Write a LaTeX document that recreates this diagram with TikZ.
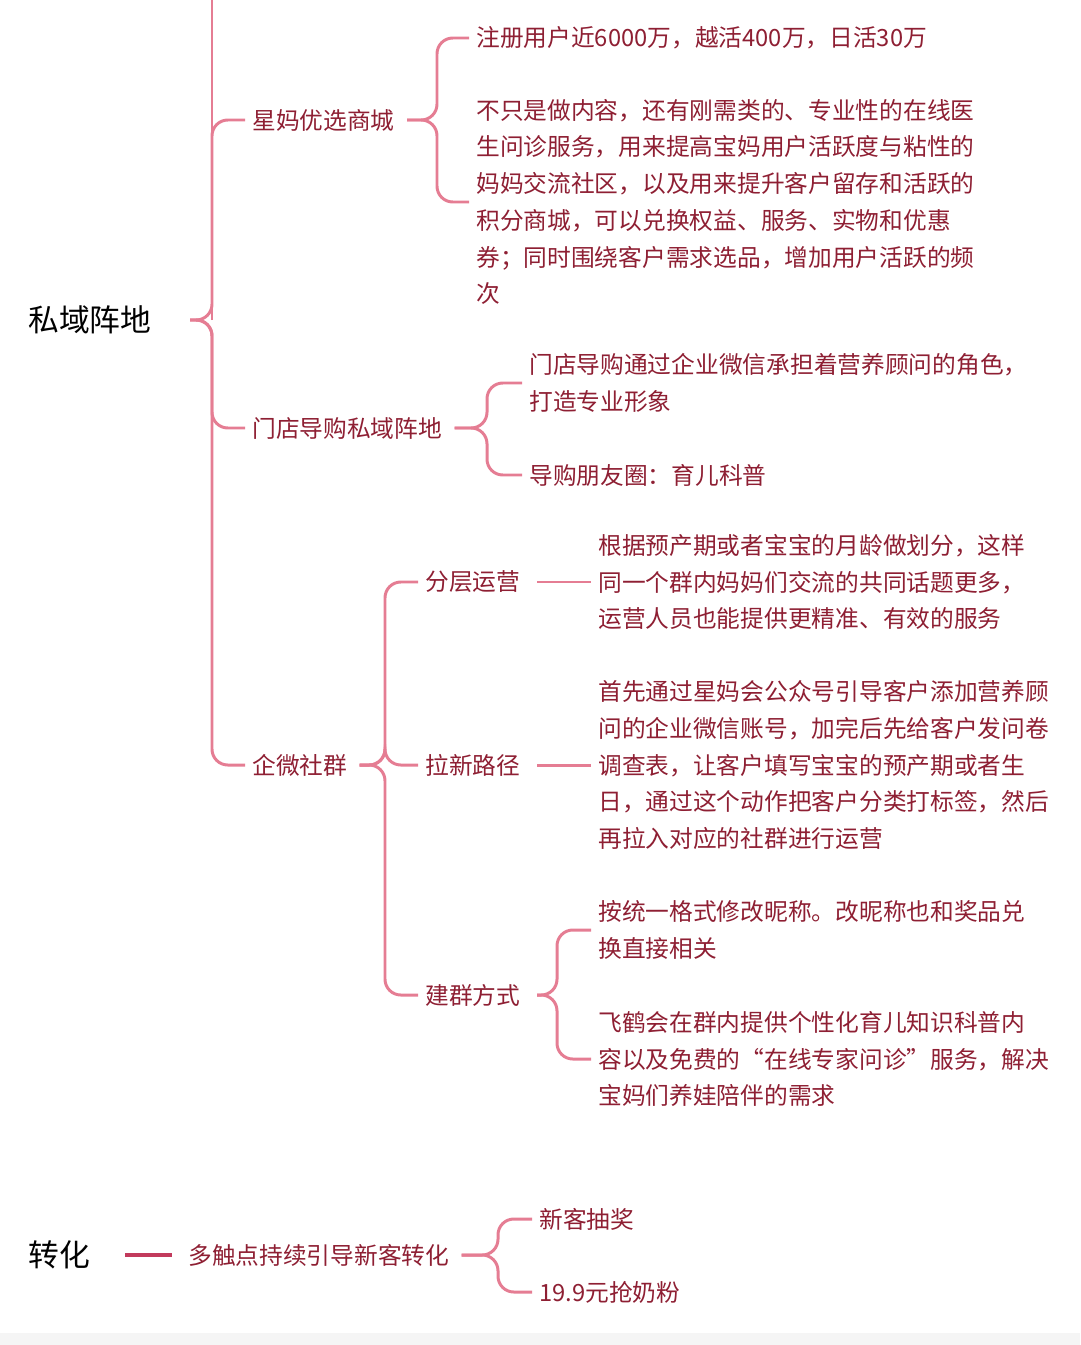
\documentclass[tikz,border=0pt]{standalone}
\usepackage{fontspec}
\setmainfont{Noto Sans CJK SC}
\usetikzlibrary{calc}
\definecolor{linkpink}{HTML}{E57D93}
\definecolor{textred}{HTML}{8E1F33}
\definecolor{deepred}{HTML}{C23A5C}
\tikzset{
  leaf/.style={anchor=west, inner sep=4pt, text=textred, align=left,
    font=\fontsize{13.5}{20.9}\selectfont},
  root/.style={anchor=west, inner sep=4pt, font=\fontsize{17.5}{20}\selectfont},
  link/.style={draw=linkpink, line width=1.7pt, rounded corners=9pt}
}
\begin{document}
\begin{tikzpicture}[x=0.02cm, y=-0.02cm]
\useasboundingbox (0,0) rectangle (1080,1345);
\fill[black!4] (0,1333) rectangle (1080,1345);
\clip (0,0) rectangle (1080,1345);
% root
\node[root] (r) at (21,320) {私域阵地};
\node[leaf] (b1) at (245,120) {星妈优选商城};
\node[leaf] (b2) at (245,428) {门店导购私域阵地};
\node[leaf] (b3) at (245,765) {企微社群};
\draw[link] (190,320) -- (212,320) |- (b1.west);
\draw[link] (190,320) -- (212,320) |- (b2.west);
\draw[link] (190,320) -- (212,320) |- (b3.west);
\draw[link] (212,320) -- (212,0);
% shop
\node[leaf] (c11) at (469,38) {注册用户近6000万，越活400万，日活30万};
\node[leaf] (c12) at (469,202) {不只是做内容，还有刚需类的、专业性的在线医\\生问诊服务，用来提高宝妈用户活跃度与粘性的\\妈妈交流社区，以及用来提升客户留存和活跃的\\积分商城，可以兑换权益、服务、实物和优惠\\券；同时围绕客户需求选品，增加用户活跃的频\\次};
\draw[link] (b1.east) ++(5,0) -- (437,120) |- (c11.west);
\draw[link] (b1.east) ++(5,0) -- (437,120) |- (c12.west);
% store guide
\node[leaf] (c21) at (522,383) {门店导购通过企业微信承担着营养顾问的角色，\\打造专业形象};
\node[leaf] (c22) at (522,475) {导购朋友圈：育儿科普};
\draw[link] (b2.east) ++(5,0) -- (487,428) |- (c21.west);
\draw[link] (b2.east) ++(5,0) -- (487,428) |- (c22.west);
% wecom groups
\node[leaf] (d1) at (418,582) {分层运营};
\node[leaf] (d2) at (418,765) {拉新路径};
\node[leaf] (d3) at (418,995) {建群方式};
\draw[link] (b3.east) ++(5,0) -- (385,765) |- (d1.west);
\draw[link] (b3.east) ++(5,0) -- (385,765) |- (d2.west);
\draw[link] (b3.east) ++(5,0) -- (385,765) |- (d3.west);
\node[leaf] (e1) at (591,582) {根据预产期或者宝宝的月龄做划分，这样\\同一个群内妈妈们交流的共同话题更多，\\运营人员也能提供更精准、有效的服务};
\node[leaf] (e2) at (591,765) {首先通过星妈会公众号引导客户添加营养顾\\问的企业微信账号，加完后先给客户发问卷\\调查表，让客户填写宝宝的预产期或者生\\日，通过这个动作把客户分类打标签，然后\\再拉入对应的社群进行运营};
\draw[link] (537,582) -- (e1.west);
\draw[link] (537,765) -- (e2.west);
\node[leaf] (e31) at (591,930) {按统一格式修改昵称。改昵称也和奖品兑\\换直接相关};
\node[leaf] (e32) at (591,1059) {飞鹤会在群内提供个性化育儿知识科普内\\容以及免费的“在线专家问诊”服务，解决\\宝妈们养娃陪伴的需求};
\draw[link] (537,995) -- (557,995) |- (e31.west);
\draw[link] (537,995) -- (557,995) |- (e32.west);
% conversion
\node[root] (r2) at (21,1255) {转化};
\node[leaf] (f1) at (181,1255) {多触点持续引导新客转化};
\draw[draw=deepred, line width=2.6pt] (125,1255) -- (172,1255);
\node[leaf] (g1) at (532,1219) {新客抽奖};
\node[leaf] (g2) at (532,1292) {19.9元抢奶粉};
\draw[link] (f1.east) ++(5,0) -- (498,1255) |- (g1.west);
\draw[link] (f1.east) ++(5,0) -- (498,1255) |- (g2.west);
\end{tikzpicture}
\end{document}
